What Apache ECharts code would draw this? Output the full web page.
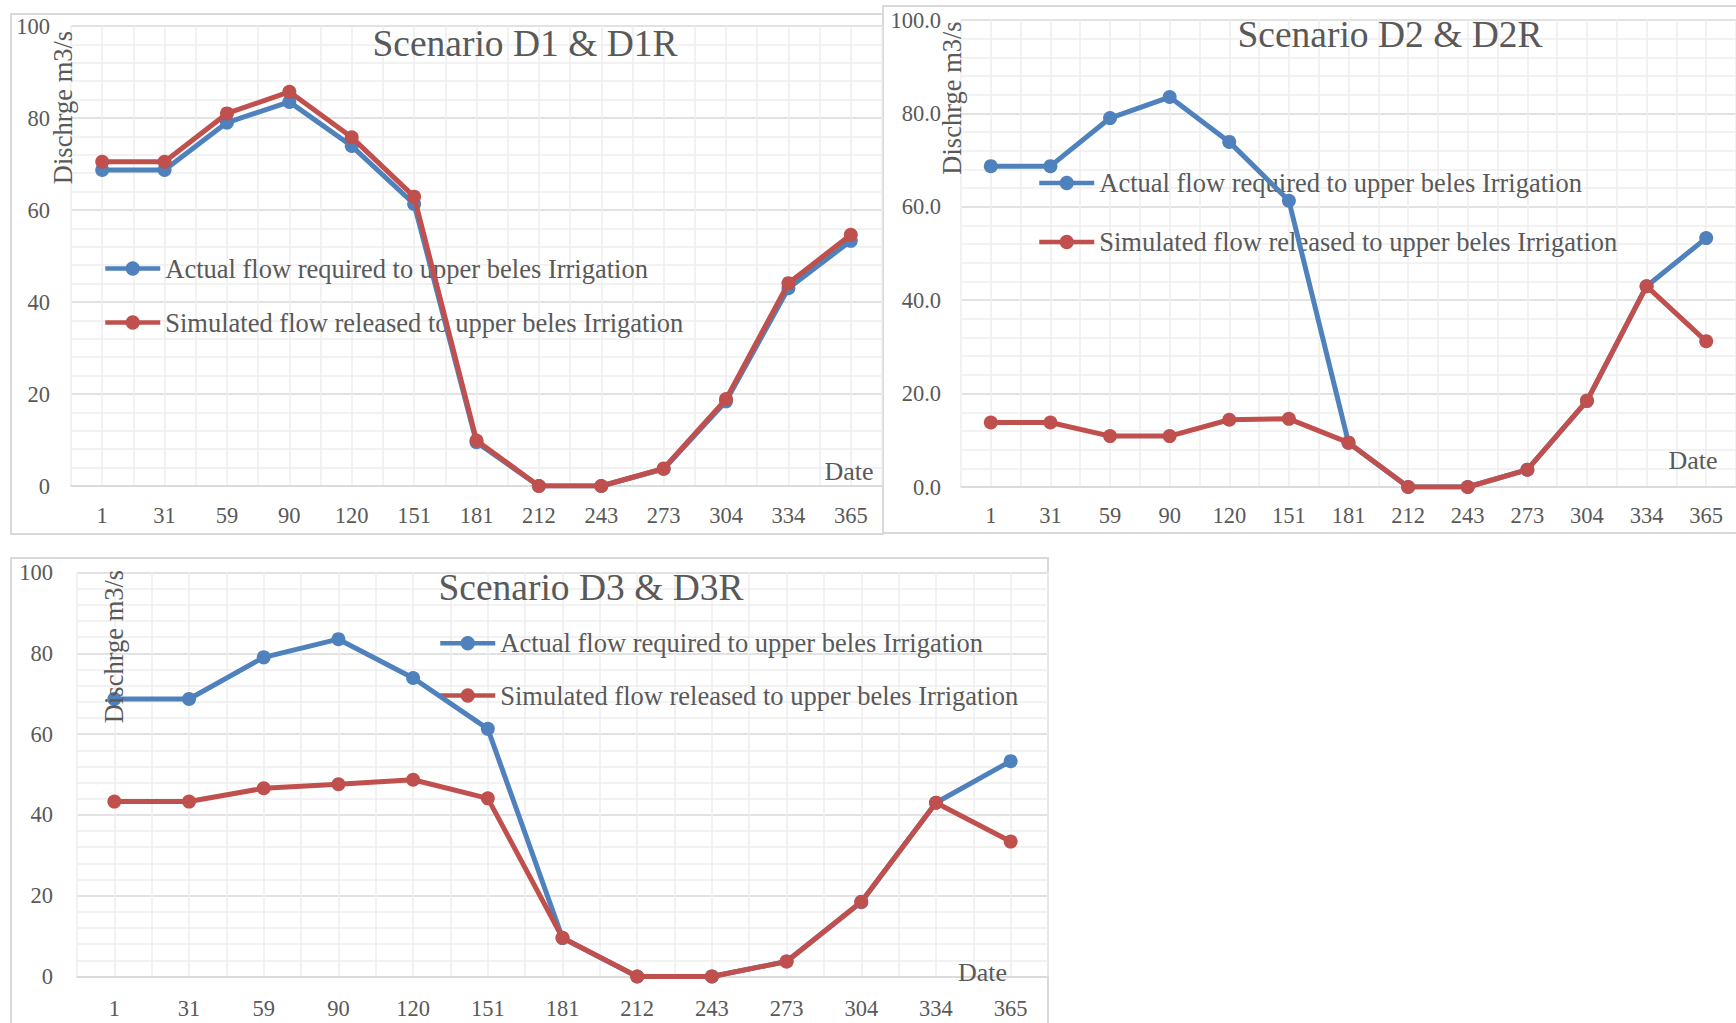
<!DOCTYPE html>
<html>
<head>
<meta charset="utf-8">
<title>Upper Beles irrigation flow scenarios</title>
<script src="https://cdn.jsdelivr.net/npm/echarts@6/dist/echarts.min.js"></script>
<style>
  html, body { margin: 0; padding: 0; background: #ffffff; }
  #chart { width: 1736px; height: 1023px; }
</style>
</head>
<body>
<div id="chart"></div>
<script>
// Day-of-year sample points
const days = ['1', '31', '59', '90', '120', '151', '181', '212', '243', '273', '304', '334', '365'];

// Flow required by the Upper Beles irrigation scheme (m3/s)
const actualFlow = [68.7, 68.7, 79.0, 83.5, 73.9, 61.3, 9.5, 0, 0, 3.7, 18.4, 43.0, 53.3];

// Simulated releases for each scenario (m3/s)
const simulatedD1 = [70.5, 70.5, 81.0, 85.7, 75.8, 62.9, 9.9, 0, 0, 3.8, 18.9, 44.1, 54.6];
const simulatedD2 = [13.8, 13.8, 10.9, 10.9, 14.4, 14.6, 9.5, 0, 0, 3.7, 18.5, 43.0, 31.2];
const simulatedD3 = [43.3, 43.3, 46.6, 47.6, 48.7, 44.1, 9.6, 0, 0, 3.7, 18.5, 43.0, 33.4];

const scenarioTitles = ['Scenario D1 & D1R', 'Scenario D2 & D2R', 'Scenario D3 & D3R'];
const seriesNames = [
  'Actual flow required to upper beles Irrigation',
  'Simulated flow released to upper beles Irrigation'
];
const yAxisName = 'Dischrge m3/s';
const xAxisName = 'Date';
const simulatedByPanel = [simulatedD1, simulatedD2, simulatedD3];

// ---- styling ----
const FONT = "'Liberation Serif', 'Times New Roman', serif";
const TEXT = '#595959';
const BLUE = '#4f81bd';
const RED = '#c0504d';
const MAJOR = '#d9d9d9';
const MINOR = '#eeeeee';

// ---- layout of the three chart panels ----
const panels = [
  { grid: { left: 71, top: 26, width: 811, height: 460 }, frame: [11, 14, 872, 520],
    title: [525, 43.5], yName: [62.5, 107.5], date: [849, 471.5],
    legend: { left: 103, top: 255, gap: 27 }, yMargin: 21, xMargin: 18, decimals: 0 },
  { grid: { left: 961, top: 20, width: 777, height: 467 }, frame: [883, 6, 870, 527],
    title: [1390, 34.6], yName: [952, 98], date: [1693, 460.6],
    legend: { left: 1037, top: 169.5, gap: 32 }, yMargin: 20, xMargin: 17, decimals: 1 },
  { grid: { left: 77, top: 572.5, width: 971, height: 404 }, frame: [11, 558, 1037, 480],
    title: [591, 587], yName: [113.5, 646.5], date: [982.5, 972],
    legend: { left: 438, top: 629.7, gap: 25.3 }, yMargin: 24, xMargin: 20, decimals: 0 }
];

const grid = [], xAxis = [], yAxis = [], series = [], legend = [], graphic = [];

panels.forEach((p, i) => {
  grid.push(Object.assign({ containLabel: false }, p.grid));

  // category axis carrying the data
  xAxis.push({
    type: 'category', gridIndex: i, data: days, boundaryGap: true,
    axisLine: { lineStyle: { color: MAJOR, width: 1.5 } },
    axisTick: { show: false },
    axisLabel: { color: TEXT, fontFamily: FONT, fontSize: 22.5, margin: p.xMargin, interval: 0 },
    splitLine: { show: false }
  });

  yAxis.push({
    type: 'value', gridIndex: i, min: 0, max: 100, interval: 20,
    axisLine: { show: false }, axisTick: { show: false },
    axisLabel: {
      color: TEXT, fontFamily: FONT, fontSize: 22.5, margin: p.yMargin,
      formatter: v => v.toFixed(p.decimals)
    },
    splitLine: { lineStyle: { color: MAJOR, width: 1.5 } },
    minorTick: { show: false, splitNumber: 5 },
    minorSplitLine: { show: true, lineStyle: { color: MINOR, width: 1.5 } }
  });

  series.push({
    type: 'line', name: seriesNames[0], xAxisIndex: i, yAxisIndex: i,
    data: actualFlow, symbol: 'circle', symbolSize: 14, showAllSymbol: true,
    lineStyle: { color: BLUE, width: 5 }, itemStyle: { color: BLUE }, z: 2
  });
  series.push({
    type: 'line', name: seriesNames[1], xAxisIndex: i, yAxisIndex: i,
    data: simulatedByPanel[i], symbol: 'circle', symbolSize: 14, showAllSymbol: true,
    lineStyle: { color: RED, width: 5 }, itemStyle: { color: RED }, z: 3
  });

  legend.push({
    left: p.legend.left, top: p.legend.top, orient: 'vertical',
    itemGap: p.legend.gap, itemWidth: 55, itemHeight: 18, padding: 0, z: 1,
    selectedMode: false, data: seriesNames,
    lineStyle: { width: 4.5 },
    textStyle: { color: TEXT, fontFamily: FONT, fontSize: 26.5, lineHeight: 26 }
  });

  // panel frame
  graphic.push({
    type: 'rect', z: -1, silent: true,
    shape: { x: p.frame[0], y: p.frame[1], width: p.frame[2], height: p.frame[3] },
    style: { fill: 'none', stroke: MAJOR, lineWidth: 2 }
  });
  // panel title
  graphic.push({
    type: 'text', x: p.title[0], y: p.title[1], z: 10, silent: true,
    style: { text: scenarioTitles[i], fill: TEXT, fontFamily: FONT, fontSize: 37.5,
             align: 'center', verticalAlign: 'middle' }
  });
  // vertical axis name
  graphic.push({
    type: 'text', x: p.yName[0], y: p.yName[1], rotation: Math.PI / 2, z: 10, silent: true,
    style: { text: yAxisName, fill: TEXT, fontFamily: FONT, fontSize: 26.5,
             align: 'center', verticalAlign: 'middle' }
  });
  // horizontal axis name
  graphic.push({
    type: 'text', x: p.date[0], y: p.date[1], z: 10, silent: true,
    style: { text: xAxisName, fill: TEXT, fontFamily: FONT, fontSize: 26,
             align: 'center', verticalAlign: 'middle' }
  });
});

// fine vertical grid: one line at every half day-slot of each panel
panels.forEach((p, i) => {
  xAxis.push({
    type: 'value', gridIndex: i, min: 0, max: 26, interval: 1, position: 'top',
    axisLine: { show: false }, axisTick: { show: false }, axisLabel: { show: false },
    splitLine: { show: true, lineStyle: { color: MINOR, width: 1.5 } }
  });
});

const chart = echarts.init(document.getElementById('chart'), null, { renderer: 'svg' });
chart.setOption({
  animation: false,
  backgroundColor: '#ffffff',
  grid, xAxis, yAxis, series, legend, graphic
});
</script>
</body>
</html>
